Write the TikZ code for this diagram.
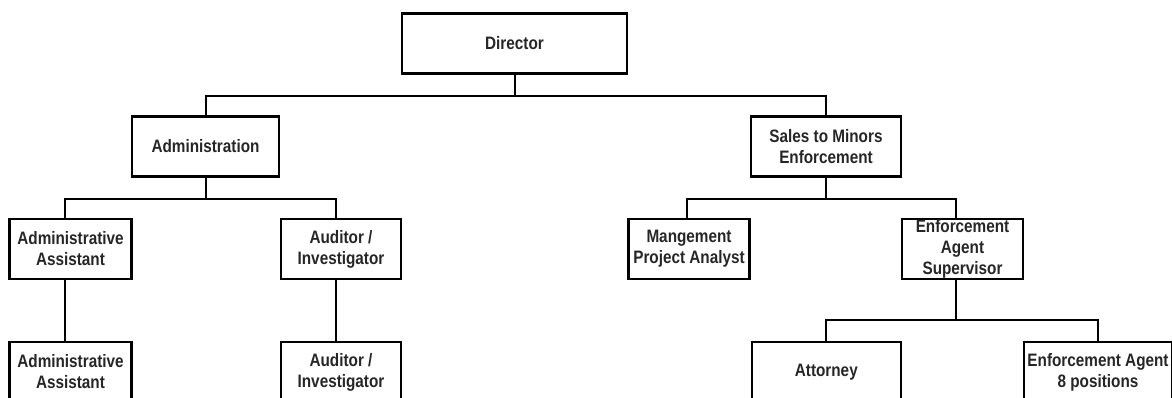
\documentclass[tikz,border=0pt]{standalone}
\usepackage{fontspec}
\setmainfont{Liberation Sans}[FakeStretch=0.85]
\usetikzlibrary{positioning}
\tikzset{
  position/.style={draw,rectangle,line width=2.2pt,inner sep=0pt,
    align=center,minimum height=60pt,text=black!85},
  links/.style={draw,line width=2pt},
  chart/.style={
    x=1pt,y=-1pt,
    every node/.style={font=\bfseries\fontsize{18}{21}\selectfont}
  }
}
\begin{document}
\begin{tikzpicture}[chart]
  \useasboundingbox (0,0) rectangle (1172,398);
  \clip (0,0) rectangle (1172,398);

  \node[position,minimum width=225pt] (dir) at (514.5,43.5) {Director};
  \node[position,minimum width=147pt] (adm) at (205.5,146.5) {Administration};
  \node[position,minimum width=150pt] (sales) at (826,146.5) {Sales to Minors\\Enforcement};
  \node[position,minimum width=122pt] (aa1) at (70.5,249) {Administrative\\Assistant};
  \node[position,minimum width=120pt] (aud1) at (341,249) {Auditor /\\Investigator};
  \node[position,minimum width=121pt] (mpa) at (689,249) {Mangement\\Project Analyst};
  \node[position,minimum width=121pt] (sup) at (962.5,249) {Enforcement\\Agent\\Supervisor};
  \node[position,minimum width=122pt] (aa2) at (70.5,372) {Administrative\\Assistant};
  \node[position,minimum width=120pt] (aud2) at (341,372) {Auditor /\\Investigator};
  \node[position,minimum width=149pt] (att) at (826.3,372) {Attorney};
  \node[position,minimum width=148pt] (ea) at (1098,372) {Enforcement Agent\\8 positions};

  \path[links]
  (dir.south) -- ++(0,21) -| (adm.north)
  (dir.south) -- ++(0,21) -| (sales.north)
  (adm.south) -- ++(0,21) -| ([xshift=-5.5pt]aa1.north)
  (adm.south) -- ++(0,21) -| ([xshift=-5pt]aud1.north)
  ([xshift=-5.5pt]aa1.south) -- ([xshift=-5.5pt]aa2.north)
  ([xshift=-5pt]aud1.south) -- ([xshift=-5pt]aud2.north)
  (sales.south) -- ++(0,21) -| ([xshift=-2.5pt]mpa.north)
  (sales.south) -- ++(0,21) -| ([xshift=-6.5pt]sup.north)
  ([xshift=-6.5pt]sup.south) -- ++(0,40) -| (att.north)
  ([xshift=-6.5pt]sup.south) -- ++(0,40) -| (ea.north)
  ;
\end{tikzpicture}
\end{document}
